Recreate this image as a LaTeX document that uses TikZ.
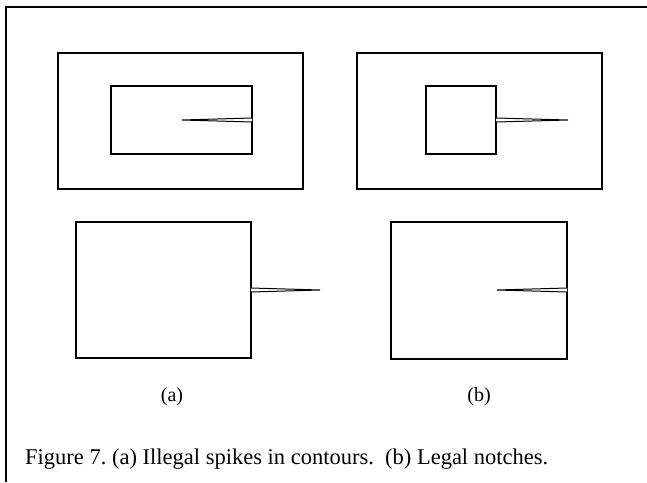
\documentclass[tikz,border=0pt]{standalone}
\usepackage{fontspec}
\setmainfont{Liberation Serif}
\begin{document}
\begin{tikzpicture}[x=1pt,y=-1pt,
  outline/.style={draw=black,line width=1.1pt},
  spike/.style={draw=black,line width=1pt,fill=white,line join=miter},
  label/.style={font=\fontsize{20}{24}\selectfont,inner sep=0pt},
  caption/.style={font=\fontsize{22.5}{27}\selectfont,inner sep=0pt},
  frameline/.style={draw=black,line width=1.2pt}]
\useasboundingbox (0,0) rectangle (647,482);
% frame of the figure
\draw[frameline] (6,482) -- (6,7) -- (647,7);
% (a) upper: contour with a spike pointing inward from the hole
\draw[outline] (58,53) rectangle (303,189);
\draw[outline] (111,86) rectangle (252,154);
\coordinate (sa1) at (252,118);
\coordinate (sa2) at (252,122);
\coordinate (sa3) at (182,120);
\draw[spike] (sa1) -- (sa3) -- (sa2);
% (b) upper: notch cut into the material
\draw[outline] (357,53) rectangle (602,189);
\draw[outline] (426,86) rectangle (496,154);
\coordinate (sb1) at (496,118);
\coordinate (sb2) at (496,122);
\coordinate (sb3) at (568,120);
\draw[spike] (sb1) -- (sb3) -- (sb2);
% (a) lower: outward spike
\draw[outline] (76,222) rectangle (251,358);
\coordinate (sc1) at (251,288);
\coordinate (sc2) at (251,292);
\coordinate (sc3) at (320,290);
\draw[spike] (sc1) -- (sc3) -- (sc2);
% (b) lower: inward notch
\draw[outline] (391,222) rectangle (567,359);
\coordinate (sd1) at (567,288);
\coordinate (sd2) at (567,292);
\coordinate (sd3) at (497,290);
\draw[spike] (sd1) -- (sd3) -- (sd2);
% sub-figure labels and caption
\node[label] (la) at (172,397) {(a)};
\node[label] (lb) at (479,397) {(b)};
\node[caption,anchor=base west] (cap) at (25,464) {Figure 7.\ (a) Illegal spikes in contours.\ \ (b) Legal notches.};
\end{tikzpicture}
\end{document}
